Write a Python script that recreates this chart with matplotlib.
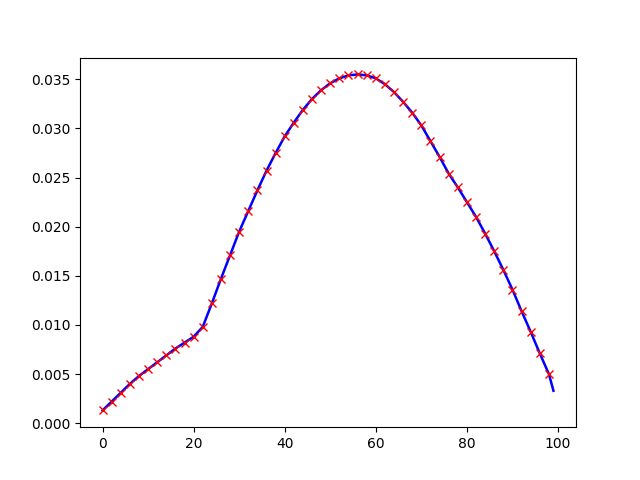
import matplotlib
matplotlib.use("Agg")
import matplotlib.pyplot as plt
import numpy as np

x_marks = list(range(0, 100, 2))
y_marks = [0.0013, 0.0022, 0.0031, 0.0040, 0.0048, 0.0055, 0.0062, 0.0069, 0.0076, 0.0082,
           0.0088, 0.0098, 0.0122, 0.0147, 0.0171, 0.0195, 0.0216, 0.0237, 0.0257, 0.0275,
           0.0292, 0.0306, 0.0319, 0.0330, 0.0339, 0.0346, 0.0351, 0.0354, 0.0355, 0.0354,
           0.0351, 0.0345, 0.0337, 0.0327, 0.0316, 0.0303, 0.0287, 0.0271, 0.0254, 0.0240,
           0.0225, 0.0210, 0.0193, 0.0175, 0.0156, 0.0136, 0.0114, 0.0093, 0.0071, 0.0050]
x_end = [99]
y_end = [0.0033]

x_line = x_marks + x_end
y_line = y_marks + y_end

fig, ax = plt.subplots(figsize=(6.4, 4.8), dpi=100)
ax.plot(x_line, y_line, 'b-', lw=1.8)
ax.plot(x_marks, y_marks, 'rx')
fig.savefig("out.png")
